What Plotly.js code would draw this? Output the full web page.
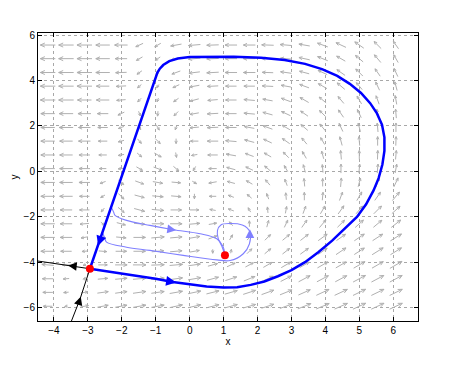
<!DOCTYPE html>
<html><head><meta charset="utf-8">
<script src="https://cdn.plot.ly/plotly-3.0.1.min.js"></script>
<style>html,body{margin:0;padding:0;background:#fff;}#plot{width:461px;height:370px;}</style>
</head><body><div id="plot"></div>
<script>
// ---- direction-field grid ----
const fieldX = [-4.18,-3.64,-3.10,-2.56,-2.02,-1.48,-0.94,-0.40,0.14,0.68,1.22,1.76,2.30,2.84,3.38,3.92,4.46,5.00,5.54,6.08];
const fieldY = [5.56,4.96,4.35,3.75,3.14,2.54,1.93,1.33,0.72,0.12,-0.49,-1.10,-1.70,-2.31,-2.91,-3.52,-4.12,-4.73,-5.33,-5.94];
// arrow angles in degrees, one row per fieldY
const fieldAngle = [
 [180,180,180,180,180,205,210,190,185,182,180,180,178,175,170,160,155,145,135,125],
 [180,180,180,180,180,210,215,195,185,182,180,180,178,175,168,158,150,140,130,120],
 [180,180,180,180,182,215,225,200,187,183,180,180,178,172,165,155,145,135,125,115],
 [180,180,180,180,183,220,235,205,190,183,180,180,177,170,160,150,140,130,115,105],
 [180,180,180,180,185,225,250,215,195,185,180,175,170,160,150,140,130,120,110,100],
 [180,180,180,180,205,290,265,225,190,183,180,175,165,155,145,135,125,115,100,95],
 [180,180,180,180,200,300,300,250,185,182,180,170,160,150,140,130,115,105,95,90],
 [180,180,180,180,195,310,315,270,180,180,175,165,155,145,130,120,105,95,90,88],
 [180,180,180,180,190,320,330,280,190,180,170,160,150,135,120,105,95,90,88,85],
 [180,180,180,180,185,330,340,320,240,180,165,155,140,120,105,95,90,85,85,80],
 [180,180,180,200,320,340,350,355,330,190,165,150,130,110,95,90,85,75,70,65],
 [180,180,180,210,315,345,355,355,270,180,160,140,110,95,90,85,70,60,55,50],
 [180,180,180,230,320,345,355,0,0,170,160,120,95,80,70,60,55,50,45,42],
 [180,180,185,320,345,355,0,0,5,10,130,90,75,65,55,50,45,42,40,38],
 [180,180,190,350,355,0,5,5,10,20,60,50,45,40,38,36,35,34,33,32],
 [180,180,185,355,0,0,5,5,10,270,80,45,40,38,36,35,34,33,32,32],
 [175,180,200,0,0,0,2,5,8,15,25,28,30,30,30,30,30,30,30,30],
 [180,185,60,5,5,5,5,8,10,15,18,22,25,27,28,28,28,28,28,28],
 [180,185,10,8,8,8,8,10,12,14,16,18,20,22,24,25,25,26,26,26],
 [180,190,10,10,10,10,10,12,13,14,15,16,18,20,22,23,24,25,25,25]
];
// arrow lengths in screen pixels
const fieldLength = [
 [15,15,15,14,13,8,7,11,12,12,12,12,12,12,11,11,11,11,10,9],
 [15,15,15,14,12,7,6,10,12,12,12,12,12,11,11,11,10,10,10,9],
 [15,15,15,14,11,6,5,9,11,12,12,12,11,11,10,10,10,10,9,9],
 [15,15,15,13,10,5,4,7,10,11,11,11,11,10,10,10,10,9,9,9],
 [15,15,14,13,9,5,4,6,9,10,11,11,10,10,10,9,9,9,9,9],
 [14,14,13,11,7,5,5,6,9,11,11,11,10,10,9,9,9,9,9,9],
 [14,14,12,10,6,5,6,5,9,11,11,10,10,9,9,9,9,9,9,9],
 [14,13,12,9,6,6,7,5,8,11,11,10,9,9,8,8,9,9,9,9],
 [14,13,11,8,6,6,8,5,6,10,10,9,8,8,8,8,9,9,9,9],
 [14,13,11,7,6,7,9,7,5,8,9,8,8,7,8,8,9,9,9,9],
 [14,13,11,6,7,9,10,9,5,8,8,7,7,7,8,8,9,9,10,10],
 [14,13,10,5,8,10,11,10,5,7,6,6,6,7,8,8,9,10,10,11],
 [14,12,10,5,8,11,12,11,9,6,6,5,6,7,8,9,10,10,11,11],
 [14,12,9,5,9,11,12,12,11,8,5,6,7,8,9,10,10,11,11,12],
 [14,12,7,6,10,12,13,12,11,9,6,7,8,9,10,11,11,12,12,13],
 [14,11,5,8,11,12,12,12,10,4,4,7,8,9,10,11,12,12,13,13],
 [12,8,3,9,12,13,13,13,12,10,9,9,10,11,11,12,12,13,13,14],
 [11,6,3,10,12,13,13,13,13,12,12,12,12,12,13,13,13,14,14,14],
 [10,5,7,11,12,13,13,13,13,13,13,13,13,13,13,14,14,14,14,14],
 [9,3,8,11,12,13,13,13,13,13,13,13,13,13,14,14,14,14,14,14]
];
// ---- trajectories ----
const loopX = [-2.94,-2.0,-1.0,-0.5,0.0,0.5,1.0,1.4,1.8,2.2,2.6,3.0,3.4,3.8,4.2,4.6,4.93,5.2,5.42,5.57,5.68,5.74,5.74,5.67,5.52,5.32,5.05,4.72,4.35,3.9,3.4,2.8,2.1,1.3,0.5,0.0,-0.35,-0.6,-0.78,-0.88,-0.95,-2.94];
const loopY = [-4.29,-4.5,-4.73,-4.87,-4.98,-5.07,-5.12,-5.1,-5.0,-4.85,-4.62,-4.35,-4.0,-3.55,-3.05,-2.5,-2.01,-1.45,-0.84,-0.3,0.3,0.9,1.5,2.05,2.55,3.0,3.45,3.85,4.2,4.5,4.73,4.9,5.0,5.04,5.05,5.03,4.97,4.85,4.68,4.52,4.35,-4.29];
const leftBranchX = [-2.94,-3.53,-4.47];
const leftBranchY = [-4.29,-4.16,-3.95];
const lowBranchX = [-3.50,-3.23,-2.94];
const lowBranchY = [-6.65,-5.62,-4.29];
const trajAX = [-2.30,-2.24,-2.2,-1.86,-1.17,-0.48,0.31,0.8,0.98,1.04];
const trajAY = [-1.62,-1.8,-1.94,-2.16,-2.38,-2.57,-2.75,-2.97,-3.3,-3.7];
const trajBX = [-2.56,-2.50,-2.45,-1.86,-1.17,-0.19,0.8,1.19,1.58,1.76,1.78,1.70,1.55,1.19,0.92,0.82,0.84,0.95,1.04];
const trajBY = [-2.72,-2.95,-3.12,-3.34,-3.48,-3.7,-3.9,-3.93,-3.63,-3.2,-2.7,-2.5,-2.36,-2.30,-2.36,-2.6,-2.95,-3.3,-3.7];
const eqX = [-2.94,1.04];
const eqY = [-4.29,-3.70];

const xRange = [-4.47, 6.73], yRange = [-6.59, 6.09];
const M = {l:38, r:43, t:33, b:49};
const W = 461, H = 370;
const PXX = (W - M.l - M.r) / (xRange[1] - xRange[0]);
const PXY = (H - M.t - M.b) / (yRange[1] - yRange[0]);

const qx = [], qy = [];
for (let r = 0; r < fieldY.length; r++) {
  for (let c = 0; c < fieldX.length; c++) {
    const a = fieldAngle[r][c] * Math.PI / 180, L = fieldLength[r][c];
    const ux = Math.cos(a) * L / PXX, uy = Math.sin(a) * L / PXY;
    const x0 = fieldX[c] - ux / 2, y0 = fieldY[r] - uy / 2;
    const x1 = fieldX[c] + ux / 2, y1 = fieldY[r] + uy / 2;
    const h = Math.max(3, 0.33 * L), s = 24 * Math.PI / 180;
    const b1 = a + Math.PI - s, b2 = a + Math.PI + s;
    qx.push(x0, x1, null, x1 + Math.cos(b1) * h / PXX, x1, x1 + Math.cos(b2) * h / PXX, null);
    qy.push(y0, y1, null, y1 + Math.sin(b1) * h / PXY, y1, y1 + Math.sin(b2) * h / PXY, null);
  }
}

const traces = [
  {x: qx, y: qy, mode: 'lines', line: {color: '#b0b0b0', width: 1}, hoverinfo: 'skip'},
  {x: trajAX, y: trajAY, mode: 'lines', line: {color: '#8080ff', width: 1.1, shape: 'spline'}},
  {x: trajBX, y: trajBY, mode: 'lines', line: {color: '#8080ff', width: 1.1, shape: 'spline'}},
  {x: leftBranchX, y: leftBranchY, mode: 'lines', line: {color: '#000', width: 1}},
  {x: lowBranchX, y: lowBranchY, mode: 'lines', line: {color: '#000', width: 1}},
  {x: loopX, y: loopY, mode: 'lines', line: {color: '#0000ff', width: 2.5}},
  {x: eqX, y: eqY, mode: 'markers', marker: {color: '#ff0000', size: 8}}
];

function head(x, y, tx, ty, color, w, size) {
  return {x: x, y: y, ax: tx, ay: ty, xref: 'x', yref: 'y', axref: 'x', ayref: 'y',
    text: '', showarrow: true, arrowhead: 2, arrowsize: size, arrowwidth: w, arrowcolor: color, standoff: 0};
}
const annotations = [
  head(-2.70, -3.28, -2.60, -2.85, '#0000ff', 2.5, 0.8),
  head(-0.40, -4.89, -0.70, -4.82, '#0000ff', 2.5, 0.8),
  head(-3.58, -4.15, -3.40, -4.18, '#000', 1, 1.7),
  head(-3.21, -5.52, -3.27, -5.80, '#000', 1, 1.7),
  head(-0.40, -2.59, -0.62, -2.54, '#8080ff', 1.1, 1.6),
  head(1.775, -2.55, 1.775, -2.75, '#8080ff', 1.1, 1.6)
];

const axisBase = {showline: true, linecolor: '#000', linewidth: 1, mirror: 'ticks', ticks: 'inside', ticklen: 4,
  tickcolor: '#000', showgrid: true, gridcolor: '#a8a8a8', griddash: 'dot', gridwidth: 1, zeroline: false,
  tickfont: {family: 'Liberation Sans, Arial, sans-serif', size: 10, color: '#000'}};
const layout = {
  width: W, height: H, margin: M, showlegend: false,
  paper_bgcolor: '#fff', plot_bgcolor: '#fff',
  xaxis: Object.assign({}, axisBase, {range: xRange, dtick: 1, tick0: 0,
    title: {text: 'x', font: {family: 'Liberation Sans, Arial, sans-serif', size: 10, color: '#000'}, standoff: 2}}),
  yaxis: Object.assign({}, axisBase, {range: yRange, dtick: 2, tick0: 0,
    title: {text: 'y', font: {family: 'Liberation Sans, Arial, sans-serif', size: 10, color: '#000'}, standoff: 3}}),
  annotations: annotations
};
Plotly.newPlot('plot', traces, layout, {staticPlot: true});
</script></body></html>
